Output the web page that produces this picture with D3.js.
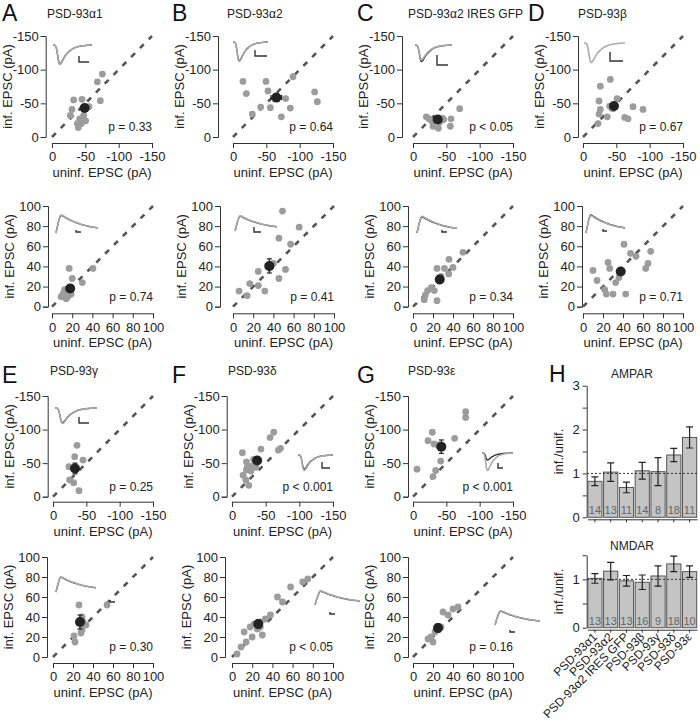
<!DOCTYPE html>
<html>
<head>
<meta charset="utf-8">
<script src="https://cdn.jsdelivr.net/npm/d3@7"></script>
<style>
body{margin:0;background:#fff;}
text{font-family:"Liberation Sans",Arial,sans-serif;}
</style>
</head>
<body>
<script>
// ---- data ----
var groups=["PSD-93α1","PSD-93α2","PSD-93α2 IRES GFP","PSD-93β","PSD-93γ","PSD-93δ","PSD-93ε"];

// AMPAR EPSCs (pA), uninfected (x) vs infected (y)
var ampA_x=[-75.5,-68,-72.5,-32.5,-45,-30,-27.5,-55.5,-47.5,-41.5,-50.5,-38,-44,-39.5];
var ampA_y=[-93.5,-82,-54,-55,-56,-41,-32,-45,-32,-27,-24,-20,-20,-14];
var ampB_x=[-15,-49.5,-90,-20,-52.5,-122.5,-126.5,-56,-41.5,-29,-79,-86,-72.5];
var ampB_y=[-82.5,-82.5,-89.5,-64.5,-68.5,-67,-52.5,-43.5,-44.5,-34,-57,-43,-30];
var ampC_x=[-20,-24,-30,-38,-28,-56,-57,-70,-46,-40,-44];
var ampC_y=[-30,-27,-16,-13,-24,-16,-27,-42,-26,-22,-28];
var ampD_x=[-41,-26,-24,-51,-26,-24,-36.5,-22.5,-75,-90,-62.5,-67.5,-40,-45];
var ampD_y=[-85.5,-75.5,-53.5,-57,-41,-34,-30,-20,-45,-41,-29,-27,-46,-42];
var ampE_x=[-36,-32.5,-45,-24,-31,-39,-25,-34];
var ampE_y=[-76.5,-59.6,-54.6,-44.7,-20.9,-9,-25,-40];
var ampF_x=[-62,-56.5,-15.5,-43,-72,-69,-21.5,-23,-16.5,-35.5,-28,-20.5,-25,-30.4,-37.4,-21.4,-32,-28.4];
var ampF_y=[-96,-88,-65.5,-71,-72,-69.5,-52,-45.5,-32,-43.7,-38.3,-25,-17,-45.7,-54.6,-40,-55.6,-41.7];
var ampG_x=[-79,-79,-29,-22.5,-31.5,-62.5,-41.5,-6,-34,-30,-37.5];
var ampG_y=[-126.7,-118,-96,-83.4,-78.5,-87,-53,-41,-39,-30,-77];
var ampMeanX=[-49,-65,-37,-46.5,-33,-37.4,-42.5];
var ampMeanY=[-43,-58.5,-26,-46,-42,-54,-74.5];
var ampErrX=[4,8,4,4,3,3,4];
var ampErrY=[5,5,3,4,8,4,10];
var ampP=["p = 0.33","p = 0.64","p < 0.05","p = 0.67","p = 0.25","p < 0.001","p < 0.001"];

// NMDAR EPSCs (pA)
var nmdA_x=[17,40.5,20,30,12.5,17.5,9,12.5,16,19,14,11,14];
var nmdA_y=[38,38,28,24,17,19,10,12.5,10.5,12.5,8,13,15];
var nmdB_x=[49,65.5,45.5,57,52,25,16.5,6,14,25,31.5,45.5,40];
var nmdB_y=[95,79,68,62,37,35,23,15.5,11,21,15.5,28,43];
var nmdC_x=[50,36,31.5,24,40,35.7,18.3,14.7,12.3,11.3,21.3,24,28];
var nmdC_y=[54,47,38,38,39,32.5,19,16,11.5,7,16,6,30];
var nmdD_x=[41,47.5,53,67.7,65,62.7,25,26.7,10,14,32.7,36,21.7,23.3,30,42.7];
var nmdD_y=[62,53,50,55,43,38,44,38,36,26,24,29,17,12.5,12.5,12.5];
var nmdE_x=[26,54,29,29,21,22,33,28,30];
var nmdE_y=[52,52,40,27,21,15,32,24,35];
var nmdF_x=[5,9,12,14,18,20,22,25,28,30,33,38,45,50,58,70,75,28];
var nmdF_y=[3,10,25,15,30,20,33,28,35,22,38,42,60,55,70,75,78,30];
var nmdG_x=[15,18,20,22,25,28,30,35,40,45];
var nmdG_y=[18,20,15,25,28,30,45,42,48,50];
var nmdMeanX=[18,36,26.7,37.7,27,26,25];
var nmdMeanY=[18,40.5,27,35,35,33,29];
var nmdErrX=[2,4,3,3,3,3,3];
var nmdErrY=[2,7,4,3,7,4,4];
var nmdP=["p = 0.74","p = 0.41","p = 0.34","p = 0.71","p = 0.30","p < 0.05","p = 0.16"];

// panel H: inf./unif. ratios
var ampRatio=[0.82,1.03,0.68,1.06,1.04,1.42,1.82];
var ampRatioErr=[0.1,0.21,0.12,0.19,0.32,0.15,0.24];
var ampN=[14,13,11,14,8,18,11];
var nmdRatio=[1.02,1.17,0.97,0.94,1.07,1.32,1.16];
var nmdRatioErr=[0.1,0.18,0.11,0.15,0.21,0.16,0.12];
var nmdN=[13,13,13,16,9,18,10];

// example traces (normalised)
var ampTrace=[0,0,-0.1,-0.95,-1,-0.82,-0.64,-0.5,-0.39,-0.3,-0.23,-0.17,-0.13,-0.1,-0.07,-0.05,-0.04,-0.03,-0.02,-0.01,0,0];
var nmdTrace=[0,0.55,1,0.92,0.85,0.78,0.72,0.66,0.61,0.56,0.52,0.48,0.44,0.41,0.38,0.35,0.33,0.31,0.29,0.27];

var ampTicks=[0,-50,-100,-150];
var nmdTicks=[0,20,40,60,80,100];

// ---- drawing ----
var svg=d3.select("body").append("svg").attr("width",700).attr("height",720);

var ampSets=[[ampA_x,ampA_y],[ampB_x,ampB_y],[ampC_x,ampC_y],[ampD_x,ampD_y],[ampE_x,ampE_y],[ampF_x,ampF_y],[ampG_x,ampG_y]];
var nmdSets=[[nmdA_x,nmdA_y],[nmdB_x,nmdB_y],[nmdC_x,nmdC_y],[nmdD_x,nmdD_y],[nmdE_x,nmdE_y],[nmdF_x,nmdF_y],[nmdG_x,nmdG_y]];

// layout of each scatter: ax = y-axis x, x0/x1 = x range, yb/yt = y range, ay = x-axis y
var ampLay=[
 {ax:45.7,x0:52,x1:152,yb:137,yt:36,ay:143, ins:{x:53,y:45,w:39,h:20,gx:1,bx:0.97}, bar:[79,56,89,62]},
 {ax:218,x0:233,x1:333,yb:137,yt:36,ay:143, ins:{x:233,y:42,w:35,h:20,gx:1,bx:0.97}, bar:[255,50,267,56]},
 {ax:402,x0:413,x1:513,yb:137,yt:36,ay:143, ins:{x:415,y:45,w:37,h:17,gx:0.9,bx:1}, bar:[437,55,448,65]},
 {ax:578,x0:583,x1:683,yb:137,yt:36,ay:143, ins:{x:584,y:43,w:41,h:20,gx:1,bx:0}, bar:[610,52,623,61]},
 {ax:47.7,x0:53,x1:153,yb:496.7,yt:396,ay:501.7, ins:{x:55,y:408,w:42,h:16,gx:1,bx:0.95}, bar:[79,417,89,423]},
 {ax:226.7,x0:232,x1:333,yb:496.7,yt:396,ay:501.7, ins:{x:298,y:455,w:35,h:16,gx:1,bx:0.92}, bar:[322,462,330,468]},
 {ax:408,x0:413,x1:513,yb:496.7,yt:396,ay:501.7, ins:{x:482,y:453,w:31,h:18,gx:1,bx:0.4}, bar:[498,463,503,468]}
];
var nmdLay=[
 {ax:48,x0:52,x1:153,yb:306.7,yt:206,ay:313.3, ins:{x:56,y:233,w:42,h:19,gx:1,bx:0.98}, bar:[76,230,81,232]},
 {ax:220,x0:233,x1:334,yb:306.7,yt:206,ay:313.3, ins:{x:235,y:231,w:42,h:16,gx:1,bx:0.97}, bar:[254,227,261,232]},
 {ax:408,x0:413,x1:513,yb:306.7,yt:206,ay:313.3, ins:{x:417,y:233,w:40,h:17,gx:1.04,bx:1}, bar:[442,230,447,232]},
 {ax:582,x0:583,x1:683,yb:306.7,yt:206,ay:313.3, ins:{x:586,y:233,w:39,h:19,gx:0.96,bx:1}, bar:[603,229,607,231]},
 {ax:47,x0:53,x1:153,yb:657,yt:557,ay:663, ins:{x:56,y:592,w:40,h:16,gx:1,bx:0.97}, bar:[110,600,115,602]},
 {ax:225,x0:232,x1:333,yb:657,yt:557,ay:663, ins:{x:315,y:605,w:45,h:15,gx:1,bx:0.97}, bar:[330,612,335,614]},
 {ax:408,x0:413,x1:513,yb:657,yt:557,ay:663, ins:{x:495,y:625,w:45,h:15,gx:1,bx:0.97}, bar:[510,630,515,632]}
];

var letters=[["A",2,21],["B",172,21],["C",357,21],["D",528,21],["E",2,383],["F",172,383],["G",357,383],["H",549,382]];
var titlePos=[[47,18],[227,18],[408,18],[578,18],[50,375],[228,375],[408,375]];

letters.forEach(function(l){
	svg.append("text").attr("x",l[1]).attr("y",l[2]).attr("font-size",23).attr("fill","#111").text(l[0]);
});
titlePos.forEach(function(t,i){
	svg.append("text").attr("x",t[0]).attr("y",t[1]).attr("font-size",12).attr("fill","#222").text(groups[i]);
});

function scatter(L,set,mx,my,ex,ey,p,dom,ticks,trace){
	var g=svg.append("g");
	var x=d3.scaleLinear().domain(dom).range([L.x0,L.x1]);
	var y=d3.scaleLinear().domain(dom).range([L.yb,L.yt]);
	var fmt=function(d){return String(d);};
	var ya=g.append("g").attr("transform","translate("+L.ax+",0)")
		.call(d3.axisLeft(y).tickValues(ticks).tickFormat(fmt).tickSizeOuter(0).tickSize(5).tickPadding(2));
	var xa=g.append("g").attr("transform","translate(0,"+L.ay+")")
		.call(d3.axisBottom(x).tickValues(ticks).tickFormat(fmt).tickSizeOuter(0).tickSize(5).tickPadding(4));
	[ya,xa].forEach(function(a){
		a.selectAll("path,line").attr("stroke","#333");
		a.selectAll("text").attr("font-size",13).attr("fill","#222").attr("font-family","Liberation Sans, Arial, sans-serif");
	});
	g.append("text").attr("x",(L.x0+L.x1)/2).attr("y",L.ay+34).attr("text-anchor","middle")
		.attr("font-size",13).attr("fill","#222").text("uninf. EPSC (pA)");
	g.append("text").attr("transform","translate("+(L.ax-34)+","+((L.yb+L.yt)/2)+") rotate(-90)")
		.attr("text-anchor","middle").attr("font-size",13).attr("fill","#222").text("inf. EPSC (pA)");
	// unity line
	g.append("line").attr("x1",x(dom[0])).attr("y1",y(dom[0])).attr("x2",x(dom[1])).attr("y2",y(dom[1]))
		.attr("stroke","#555").attr("stroke-width",2.6).attr("stroke-dasharray","5.5,7");
	// cells
	g.selectAll("circle.c").data(set[0]).enter().append("circle").attr("class","c")
		.attr("cx",function(d){return x(d);}).attr("cy",function(d,i){return y(set[1][i]);})
		.attr("r",3.4).attr("fill","#9c9c9c");
	// mean +- sem
	var cx=x(mx),cy=y(my);
	g.append("line").attr("x1",x(mx-ex)).attr("x2",x(mx+ex)).attr("y1",cy).attr("y2",cy).attr("stroke","#222").attr("stroke-width",1.2);
	g.append("line").attr("y1",y(my-ey)).attr("y2",y(my+ey)).attr("x1",cx).attr("x2",cx).attr("stroke","#222").attr("stroke-width",1.2);
	[x(mx-ex),x(mx+ex)].forEach(function(v){
		g.append("line").attr("x1",v).attr("x2",v).attr("y1",cy-2.5).attr("y2",cy+2.5).attr("stroke","#222").attr("stroke-width",1.2);
	});
	[y(my-ey),y(my+ey)].forEach(function(v){
		g.append("line").attr("y1",v).attr("y2",v).attr("x1",cx-2.5).attr("x2",cx+2.5).attr("stroke","#222").attr("stroke-width",1.2);
	});
	g.append("circle").attr("cx",cx).attr("cy",cy).attr("r",5).attr("fill","#222");
	g.append("text").attr("x",L.x1).attr("y",L.yb-6).attr("text-anchor","end").attr("font-size",12).attr("fill","#222").text(p);
	// inset traces
	var I=L.ins;
	var tx=d3.scaleLinear().domain([0,trace.length-1]).range([I.x,I.x+I.w]);
	var pk=d3.max(trace,function(d){return Math.abs(d);});
	var ty=trace===ampTrace
		? d3.scaleLinear().domain([0,-pk]).range([I.y,I.y+I.h])
		: d3.scaleLinear().domain([0,pk]).range([I.y,I.y-I.h]);
	var gl=d3.line().x(function(d,i){return tx(i);}).y(function(d){return ty(d*I.gx);}).curve(d3.curveBasis);
	var bl=d3.line().x(function(d,i){return tx(i);}).y(function(d){return ty(d*I.bx);}).curve(d3.curveBasis);
	if(I.bx>0) g.append("path").attr("d",bl(trace)).attr("fill","none").attr("stroke","#333").attr("stroke-width",1.4);
	g.append("path").attr("d",gl(trace)).attr("fill","none").attr("stroke","#aaa").attr("stroke-width",1.6);
	var b=L.bar;
	g.append("path").attr("d","M"+b[0]+","+b[1]+"V"+b[3]+"H"+b[2]).attr("fill","none").attr("stroke","#333").attr("stroke-width",1.4);
}

for(var i=0;i<7;i++){
	scatter(ampLay[i],ampSets[i],ampMeanX[i],ampMeanY[i],ampErrX[i],ampErrY[i],ampP[i],[0,-150],ampTicks,ampTrace);
	scatter(nmdLay[i],nmdSets[i],nmdMeanX[i],nmdMeanY[i],nmdErrX[i],nmdErrY[i],nmdP[i],[0,100],nmdTicks,nmdTrace);
}

// ---- panel H ----
function ratioBars(vals,errs,ns,y0,yTop,dmax,ticks,labels,title,titleY,showCats){
	var g=svg.append("g");
	var x=d3.scaleBand().domain(groups).range([587.5,697]).paddingInner(0.1).paddingOuter(0.02);
	var y=d3.scaleLinear().domain([0,dmax]).range([y0,yTop]);
	var ya=g.append("g").attr("transform","translate(586.7,0)")
		.call(d3.axisLeft(y).tickValues(ticks).tickSize(4).tickSizeOuter(0).tickPadding(3)
		.tickFormat(function(d){return labels.indexOf(d)>=0?d:"";}));
	ya.selectAll("path,line").attr("stroke","#333");
	ya.selectAll("text").attr("font-size",13).attr("fill","#222");
	var xa=g.append("g").attr("transform","translate(0,"+(y0+2)+")")
		.call(d3.axisBottom(x).tickSize(3).tickSizeOuter(0).tickFormat(""));
	xa.selectAll("path,line").attr("stroke","#333");
	g.selectAll("rect").data(vals).enter().append("rect")
		.attr("x",function(d,i){return x(groups[i]);}).attr("width",x.bandwidth())
		.attr("y",function(d){return y(d);}).attr("height",function(d){return y0-y(d);})
		.attr("fill","#c4c4c4").attr("stroke","#555").attr("stroke-width",1);
	vals.forEach(function(v,i){
		var cx=x(groups[i])+x.bandwidth()/2;
		g.append("path").attr("d","M"+(cx-3.5)+","+y(v+errs[i])+"H"+(cx+3.5)+"M"+cx+","+y(v+errs[i])+"V"+y(v-errs[i])+"M"+(cx-3.5)+","+y(v-errs[i])+"H"+(cx+3.5))
			.attr("stroke","#222").attr("stroke-width",1.2).attr("fill","none");
		g.append("text").attr("x",cx).attr("y",y0-3).attr("text-anchor","middle").attr("font-size",11).attr("fill","#666").text(ns[i]);
	});
	g.append("line").attr("x1",587).attr("x2",697).attr("y1",y(1)).attr("y2",y(1))
		.attr("stroke","#333").attr("stroke-width",1).attr("stroke-dasharray","2,2");
	g.append("text").attr("transform","translate(563,"+((y0+yTop)/2)+") rotate(-90)").attr("text-anchor","middle")
		.attr("font-size",13).attr("fill","#222").text("inf./unif.");
	g.append("text").attr("x",632).attr("y",titleY).attr("text-anchor","middle").attr("font-size",12).attr("fill","#222").text(title);
	if(showCats){
		groups.forEach(function(c,i){
			var cx=x(c)+x.bandwidth()/2+3;
			g.append("text").attr("transform","translate("+cx+","+(y0+10)+") rotate(-45)").attr("text-anchor","end")
				.attr("font-size",12).attr("fill","#222").text(c);
		});
	}
}
ratioBars(ampRatio,ampRatioErr,ampN,517.3,385.7,3,[0,0.5,1,1.5,2,2.5,3],[0,1,2,3],"AMPAR",378,false);
ratioBars(nmdRatio,nmdRatioErr,nmdN,627.7,555.2,1.5,[0,0.5,1,1.5],[0,1],"NMDAR",550,true);
</script>
</body>
</html>
